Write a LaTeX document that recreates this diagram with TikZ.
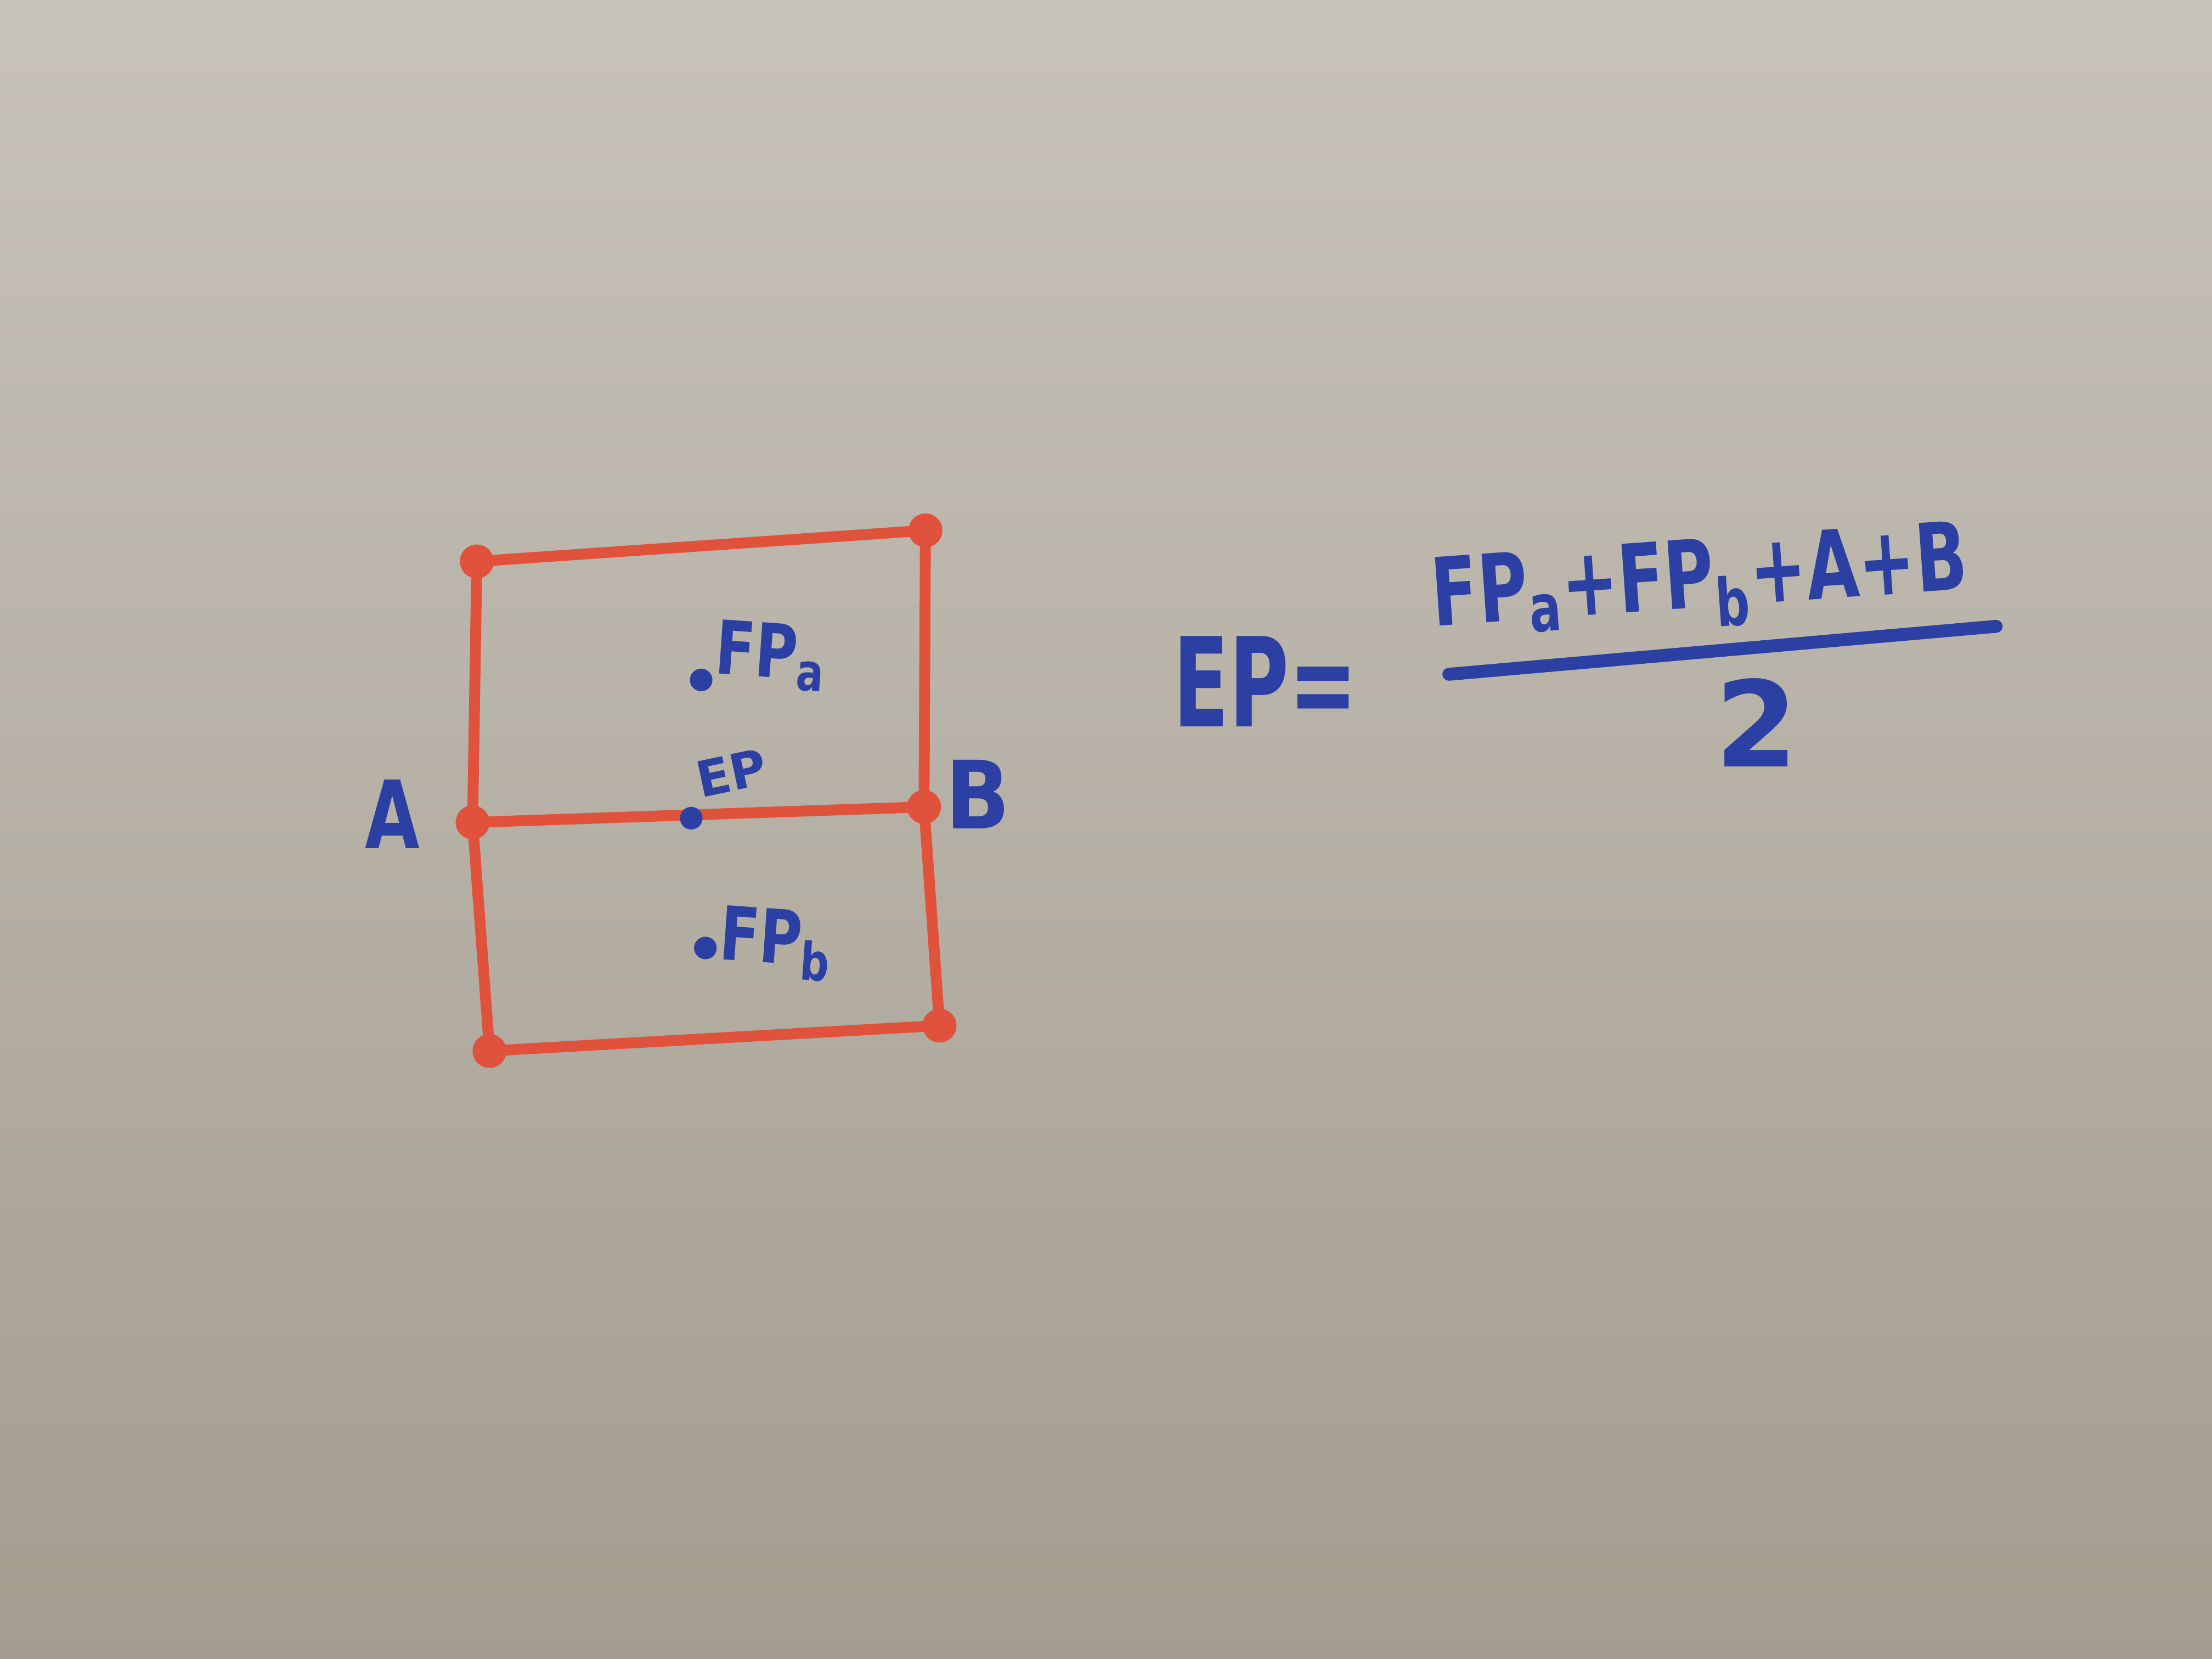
\documentclass[tikz,border=0pt]{standalone}
\usepackage{fontspec}
\setmainfont{DejaVu Sans}
\definecolor{boardtop}{HTML}{C8C3BA}
\definecolor{boardbot}{HTML}{A39D90}
\definecolor{redmark}{HTML}{E0523C}
\definecolor{bluemark}{HTML}{2B40A2}
\tikzset{
  redline/.style={draw=redmark, line width=2.2pt, line cap=round, line join=round},
  corner/.style={circle, fill=redmark, inner sep=0pt, minimum size=0.24cm},
  bdot/.style={circle, fill=bluemark, inner sep=0pt, minimum size=0.16cm},
  btext/.style={text=bluemark, font=\bfseries, inner sep=1pt},
}
\newcommand{\nar}[2]{\scalebox{#1}[1]{#2}}
\begin{document}
\begin{tikzpicture}
\useasboundingbox (0,0) rectangle (15.68,11.76);
\shade[top color=boardtop, bottom color=boardbot] (0,0) rectangle (15.68,11.76);
% grid corners
\node[corner] (tl) at (3.38,7.78) {};
\node[corner] (tr) at (6.56,8.00) {};
\node[corner] (ml) at (3.35,5.93) {};
\node[corner] (mr) at (6.55,6.04) {};
\node[corner] (bl) at (3.47,4.31) {};
\node[corner] (br) at (6.66,4.49) {};
\draw[redline] (tl.center) -- (tr.center);
\draw[redline] (ml.center) -- (mr.center);
\draw[redline] (bl.center) -- (br.center);
\draw[redline] (tl.center) -- (ml.center);
\draw[redline] (ml.center) -- (bl.center);
\draw[redline] (tr.center) -- (mr.center);
\draw[redline] (mr.center) -- (br.center);
% blue points
\node[bdot] (fpa) at (4.97,6.94) {};
\node[bdot] (ep) at (4.90,5.96) {};
\node[bdot] (fpb) at (5.00,5.04) {};
\node[btext, font=\bfseries\fontsize{15}{15}\selectfont, anchor=west, rotate=-4] (fpal) at (5.03,7.14) {\nar{0.78}{FP\textsubscript{a}}};
\node[btext, font=\bfseries\fontsize{10}{10}\selectfont, anchor=west, rotate=12] (epl) at (4.90,6.22) {EP};
\node[btext, font=\bfseries\fontsize{15}{15}\selectfont, anchor=west, rotate=-4] (fpbl) at (5.06,5.10) {\nar{0.78}{FP\textsubscript{b}}};
\node[btext, font=\bfseries\fontsize{19}{19}\selectfont] (la) at (2.78,5.99) {\nar{0.75}{A}};
\node[btext, font=\bfseries\fontsize{19}{19}\selectfont] (lb) at (6.93,6.13) {\nar{0.9}{B}};
% equation
\node[btext, font=\bfseries\fontsize{25}{25}\selectfont] (eq) at (8.97,6.93) {\nar{0.66}{EP=}};
\node[btext, font=\bfseries\fontsize{19}{19}\selectfont, rotate=4] (num) at (12.05,7.62) {\nar{0.72}{FP\textsubscript{a}+FP\textsubscript{b}+A+B}};
\coordinate (fl) at (10.27,6.98);
\coordinate (fr) at (14.15,7.32);
\draw[bluemark, line width=2.6pt, line cap=round] (fl) -- (fr);
\node[btext, font=\bfseries\fontsize{24}{24}\selectfont] (den) at (12.45,6.64) {2};
\end{tikzpicture}
\end{document}
